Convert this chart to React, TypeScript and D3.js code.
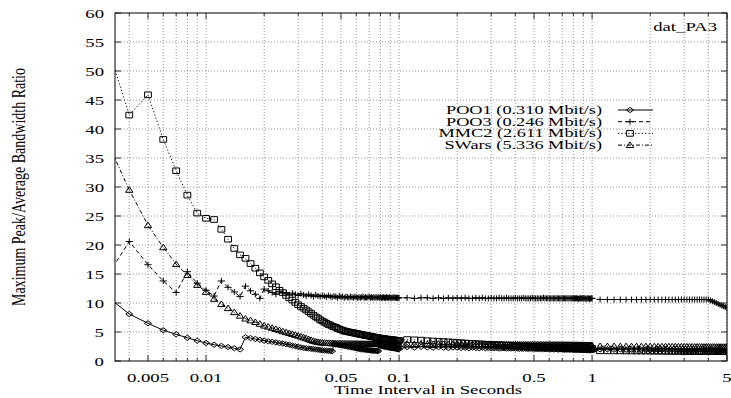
import { useEffect, useRef } from 'react'
import * as d3 from 'd3'

// sampling grid of the time interval, in milliseconds
const X_FINE_MS = [
  3, 4, 5, 6, 7, 8, 9, 10, 11, 12,
  13, 14, 15, 16, 17, 18, 19, 20, 21, 22,
  23, 24, 25, 26, 27, 28, 29, 30, 31, 32,
  33, 34, 35, 36, 37, 38, 39, 40, 41, 42,
  43, 44, 45, 46, 47, 48, 49, 50, 51, 52,
  53, 54, 55, 56, 57, 58, 59, 60, 61, 62,
  63, 64, 65, 66, 67, 68, 69, 70, 71, 72,
  73, 74, 75, 76, 77, 78, 79, 80, 81, 82,
  83, 84, 85, 86, 87, 88, 89, 90, 91, 92,
  93, 94, 95, 96, 97, 98, 99, 100
]
const X_MID_MS = [
  110, 120, 130, 140, 150, 160, 170, 180, 190, 200,
  210, 220, 230, 240, 250, 260, 270, 280, 290, 300,
  310, 320, 330, 340, 350, 360, 370, 380, 390, 400,
  410, 420, 430, 440, 450, 460, 470, 480, 490, 500,
  510, 520, 530, 540, 550, 560, 570, 580, 590, 600,
  610, 620, 630, 640, 650, 660, 670, 680, 690, 700,
  710, 720, 730, 740, 750, 760, 770, 780, 790, 800,
  810, 820, 830, 840, 850, 860, 870, 880, 890, 900,
  910, 920, 930, 940, 950, 960, 970, 980, 990, 1000
]
const X_COARSE_MS = [
  1100, 1200, 1300, 1400, 1500, 1600, 1700, 1800, 1900, 2000,
  2100, 2200, 2300, 2400, 2500, 2600, 2700, 2800, 2900, 3000,
  3100, 3200, 3300, 3400, 3500, 3600, 3700, 3800, 3900, 4000,
  4100, 4200, 4300, 4400, 4500, 4600, 4700, 4800, 4900, 5000
]

const POO1_FINE = [
  11.4, 8.1, 6.5, 5.3, 4.6, 4.0, 3.5, 3.1, 2.8, 2.6,
  2.4, 2.2, 2.0, 4.1, 3.95, 3.8, 3.65, 3.5, 3.4, 3.3,
  3.2, 3.1, 3.0, 2.9, 2.8, 2.65, 2.55, 2.45, 2.35, 2.25,
  2.2, 2.15, 2.1, 2.05, 2.0, 1.95, 1.9, 1.85, 1.8, 1.8,
  1.75, 1.75, 1.7, 2.9, 2.85, 2.8, 2.75, 2.7, 2.65, 2.6,
  2.55, 2.5, 2.45, 2.4, 2.35, 2.3, 2.25, 2.2, 2.15, 2.1,
  2.05, 2.0, 2.0, 1.95, 1.95, 1.9, 1.9, 1.85, 1.85, 1.8,
  1.8, 1.8, 1.75, 1.75, 1.75, 1.7, 2.7, 2.65, 2.6, 2.55,
  2.5, 2.5, 2.45, 2.4, 2.4, 2.35, 2.3, 2.3, 2.25, 2.25,
  2.2, 2.2, 2.15, 2.15, 2.1, 2.1, 2.05, 2.05
]
const POO1_MID = [
  2.4, 2.3, 2.45, 2.35, 2.3, 2.4, 2.3, 2.25, 2.35, 2.3,
  2.25, 2.3, 2.2, 2.3, 2.25, 2.2, 2.3, 2.2, 2.25, 2.2,
  2.2, 2.25, 2.15, 2.2, 2.2, 2.15, 2.2, 2.15, 2.2, 2.15,
  2.15, 2.1, 2.15, 2.1, 2.15, 2.1, 2.1, 2.15, 2.1, 2.1,
  2.1, 2.05, 2.1, 2.05, 2.1, 2.05, 2.05, 2.1, 2.05, 2.05,
  2.05, 2.0, 2.05, 2.0, 2.05, 2.0, 2.0, 2.05, 2.0, 2.0,
  2.0, 1.95, 2.0, 1.95, 2.0, 1.95, 1.95, 2.0, 1.95, 1.95,
  1.95, 1.9, 1.95, 1.9, 1.95, 1.9, 1.9, 1.95, 1.9, 1.9,
  1.9, 1.9, 1.85, 1.9, 1.85, 1.9, 1.85, 1.85, 1.9, 1.85
]
const POO1_COARSE = [
  2.0, 2.0, 1.95, 2.0, 1.95, 1.95, 1.95, 1.9, 1.95, 1.9,
  1.9, 1.9, 1.9, 1.9, 1.85, 1.9, 1.85, 1.85, 1.85, 1.85,
  1.85, 1.85, 1.8, 1.85, 1.8, 1.8, 1.8, 1.8, 1.8, 1.8,
  1.8, 1.75, 1.8, 1.75, 1.75, 1.75, 1.75, 1.75, 1.75, 1.7
]

const POO3_FINE = [
  14.1, 20.6, 16.6, 13.8, 11.8, 15.4, 13.4, 12.2, 11.2, 13.8,
  12.7, 11.9, 11.1, 12.9, 12.1, 11.5, 10.8, 12.4, 12.1, 11.8,
  11.5, 12.0, 11.8, 11.6, 11.4, 11.7, 11.5, 11.3, 11.6, 11.4,
  11.2, 11.5, 11.3, 11.1, 11.4, 11.2, 11.1, 11.3, 11.2, 11.0,
  11.3, 11.1, 11.0, 11.2, 11.1, 10.9, 11.2, 11.0, 11.1, 10.9,
  11.1, 11.0, 10.9, 11.1, 11.0, 10.9, 11.1, 11.0, 10.9, 11.0,
  10.9, 11.0, 11.1, 10.9, 11.0, 10.9, 11.0, 11.1, 10.9, 11.0,
  10.9, 11.0, 10.9, 11.0, 10.9, 11.0, 10.9, 11.0, 10.9, 10.9,
  11.0, 10.9, 10.9, 11.0, 10.9, 10.9, 11.0, 10.9, 10.9, 10.9,
  10.9, 11.0, 10.9, 10.9, 10.9, 10.9, 10.9, 10.9
]
const POO3_MID = [
  10.9, 10.8, 10.9, 10.9, 10.8, 10.9, 10.8, 10.9, 10.8, 10.9,
  10.8, 10.9, 10.8, 10.8, 10.9, 10.8, 10.9, 10.8, 10.8, 10.9,
  10.8, 10.8, 10.9, 10.8, 10.8, 10.9, 10.8, 10.8, 10.8, 10.9,
  10.8, 10.8, 10.8, 10.9, 10.8, 10.8, 10.8, 10.8, 10.9, 10.8,
  10.8, 10.8, 10.8, 10.8, 10.8, 10.9, 10.8, 10.8, 10.8, 10.8,
  10.8, 10.8, 10.8, 10.8, 10.8, 10.8, 10.8, 10.8, 10.8, 10.8,
  10.8, 10.8, 10.8, 10.8, 10.8, 10.8, 10.8, 10.8, 10.8, 10.8,
  10.8, 10.8, 10.8, 10.8, 10.7, 10.8, 10.8, 10.8, 10.8, 10.8,
  10.8, 10.8, 10.7, 10.8, 10.8, 10.8, 10.7, 10.8, 10.8, 10.8
]
const POO3_COARSE = [
  10.6, 10.6, 10.6, 10.6, 10.6, 10.6, 10.6, 10.6, 10.6, 10.6,
  10.6, 10.6, 10.6, 10.6, 10.6, 10.6, 10.6, 10.6, 10.6, 10.6,
  10.6, 10.6, 10.6, 10.6, 10.6, 10.6, 10.6, 10.6, 10.6, 10.6,
  10.45, 10.3, 10.15, 10.0, 9.85, 9.7, 9.55, 9.45, 9.3, 9.15
]

const MMC2_FINE = [
  55.7, 42.4, 45.9, 38.2, 32.8, 28.6, 25.5, 24.6, 24.4, 22.7,
  21.0, 19.4, 18.3, 17.7, 16.8, 16.0, 15.2, 14.5, 13.9, 13.3,
  12.8, 12.2, 11.8, 11.3, 10.9, 10.5, 10.1, 9.7, 9.4, 9.1,
  8.8, 8.5, 8.2, 7.9, 7.6, 7.4, 7.1, 6.9, 6.7, 6.5,
  6.3, 6.2, 6.0, 5.9, 5.8, 5.6, 5.5, 5.4, 5.3, 5.2,
  5.1, 5.05, 5.0, 4.95, 4.9, 4.85, 4.8, 4.75, 4.7, 4.65,
  4.6, 4.55, 4.5, 4.45, 4.4, 4.38, 4.35, 4.3, 4.25, 4.2,
  4.17, 4.14, 4.1, 4.07, 4.04, 4.0, 3.97, 3.94, 3.9, 3.87,
  3.84, 3.82, 3.8, 3.78, 3.76, 3.74, 3.72, 3.7, 3.68, 3.66,
  3.64, 3.62, 3.6, 3.58, 3.56, 3.55, 3.54, 3.52
]
const MMC2_MID = [
  3.7, 3.65, 3.6, 3.5, 3.45, 3.4, 3.35, 3.3, 3.25, 3.2,
  3.15, 3.1, 3.05, 3.0, 2.98, 2.95, 2.92, 2.9, 2.87, 2.85,
  2.82, 2.8, 2.78, 2.76, 2.74, 2.72, 2.7, 2.68, 2.66, 2.64,
  2.62, 2.6, 2.58, 2.56, 2.55, 2.54, 2.52, 2.5, 2.49, 2.48,
  2.46, 2.45, 2.44, 2.42, 2.41, 2.4, 2.39, 2.38, 2.36, 2.35,
  2.34, 2.33, 2.32, 2.31, 2.3, 2.29, 2.28, 2.27, 2.26, 2.25,
  2.24, 2.23, 2.22, 2.21, 2.2, 2.2, 2.19, 2.18, 2.17, 2.16,
  2.16, 2.15, 2.14, 2.14, 2.13, 2.12, 2.12, 2.11, 2.1, 2.1,
  2.09, 2.09, 2.08, 2.08, 2.07, 2.07, 2.06, 2.06, 2.05, 2.05
]
const MMC2_COARSE = [
  1.75, 1.75, 1.74, 1.74, 1.73, 1.73, 1.72, 1.72, 1.71, 1.71,
  1.7, 1.7, 1.69, 1.69, 1.68, 1.68, 1.67, 1.67, 1.66, 1.66,
  1.65, 1.65, 1.65, 1.64, 1.64, 1.64, 1.63, 1.63, 1.63, 1.62,
  1.62, 1.62, 1.61, 1.61, 1.61, 1.6, 1.6, 1.6, 1.6, 1.6
]

const SWARS_FINE = [
  38.6, 29.5, 23.4, 19.6, 16.7, 14.8, 13.1, 11.9, 10.7, 9.8,
  9.1, 8.4, 7.8, 7.3, 7.0, 6.7, 6.4, 6.1, 5.9, 5.7,
  5.5, 5.3, 5.1, 4.95, 4.8, 4.65, 4.5, 4.35, 4.2, 4.05,
  3.9, 3.75, 3.6, 3.45, 3.35, 3.25, 3.2, 3.15, 3.12, 3.1,
  3.08, 3.06, 3.05, 3.04, 3.03, 3.02, 3.01, 3.0, 3.0, 2.99,
  2.99, 2.98, 2.98, 2.97, 2.97, 2.96, 2.96, 2.95, 2.95, 2.95,
  2.94, 2.94, 2.94, 2.93, 2.93, 2.93, 2.92, 2.92, 2.92, 2.92,
  2.91, 2.91, 2.91, 2.91, 2.9, 2.9, 2.9, 2.9, 2.9, 2.89,
  2.89, 2.89, 2.89, 2.89, 2.88, 2.88, 2.88, 2.88, 2.88, 2.88,
  2.87, 2.87, 2.87, 2.87, 2.87, 2.86, 2.86, 2.86
]
const SWARS_MID = [
  2.95, 2.9, 2.95, 2.9, 2.9, 2.95, 2.9, 2.9, 2.9, 2.88,
  2.9, 2.88, 2.88, 2.9, 2.87, 2.87, 2.88, 2.86, 2.86, 2.87,
  2.86, 2.85, 2.86, 2.85, 2.85, 2.84, 2.85, 2.84, 2.84, 2.83,
  2.84, 2.83, 2.83, 2.82, 2.83, 2.82, 2.82, 2.81, 2.82, 2.81,
  2.81, 2.8, 2.81, 2.8, 2.8, 2.8, 2.79, 2.8, 2.79, 2.79,
  2.79, 2.78, 2.79, 2.78, 2.78, 2.78, 2.77, 2.78, 2.77, 2.77,
  2.77, 2.77, 2.76, 2.77, 2.76, 2.76, 2.76, 2.75, 2.76, 2.75,
  2.75, 2.75, 2.75, 2.74, 2.75, 2.74, 2.74, 2.74, 2.73, 2.74,
  2.73, 2.73, 2.73, 2.72, 2.73, 2.72, 2.72, 2.72, 2.71, 2.71
]
const SWARS_COARSE = [
  2.55, 2.55, 2.54, 2.54, 2.53, 2.53, 2.52, 2.52, 2.52, 2.51,
  2.51, 2.5, 2.5, 2.5, 2.49, 2.49, 2.49, 2.48, 2.48, 2.48,
  2.47, 2.47, 2.47, 2.46, 2.46, 2.46, 2.45, 2.45, 2.45, 2.45,
  2.44, 2.44, 2.44, 2.43, 2.43, 2.43, 2.43, 2.42, 2.42, 2.42
]

const SERIES_NAMES = ['POO1 (0.310 Mbit/s)', 'POO3 (0.246 Mbit/s)', 'MMC2 (2.611 Mbit/s)', 'SWars (5.336 Mbit/s)']
const Y_TICKS = [0, 5, 10, 15, 20, 25, 30, 35, 40, 45, 50, 55, 60]
const X_TICK_LABELS = [0.005, 0.01, 0.05, 0.1, 0.5, 1, 5]
const X_GRID = [
  0.004, 0.005, 0.006, 0.007, 0.008, 0.009,
  0.01, 0.02, 0.03, 0.04, 0.05, 0.06, 0.07, 0.08, 0.09,
  0.1, 0.2, 0.3, 0.4, 0.5, 0.6, 0.7, 0.8, 0.9,
  1, 2, 3, 4, 5
]

const W = 731
const H = 398
const LEFT = 115
const RIGHT = 727
const TOP = 13
const BOTTOM = 361
const FONT = '"Liberation Serif", "Times New Roman", Times, serif'

const MARKERS: Record<string, string> = {
  diamond: 'M-3.5,0L0,-2.6L3.5,0L0,2.6Z',
  plus: 'M-3.6,0H3.6M0,-3V3',
  square: 'M-3.4,-2.8H3.4V2.8H-3.4Z',
  triangle: 'M0,-3.2L3.7,2.4H-3.7Z'
}

export default function App() {
  const svgRef = useRef<SVGSVGElement>(null)

  useEffect(() => {
    if (!svgRef.current) return
    const svg = d3.select(svgRef.current)
    svg.selectAll('*').remove()

    const xs = [...X_FINE_MS, ...X_MID_MS, ...X_COARSE_MS].map(ms => ms / 1000)
    const series = [
      { name: SERIES_NAMES[0], values: [...POO1_FINE, ...POO1_MID, ...POO1_COARSE], dash: null, marker: 'diamond' },
      { name: SERIES_NAMES[1], values: [...POO3_FINE, ...POO3_MID, ...POO3_COARSE], dash: '4,3', marker: 'plus' },
      { name: SERIES_NAMES[2], values: [...MMC2_FINE, ...MMC2_MID, ...MMC2_COARSE], dash: '1.2,2.2', marker: 'square' },
      { name: SERIES_NAMES[3], values: [...SWARS_FINE, ...SWARS_MID, ...SWARS_COARSE], dash: '4,2,1,2', marker: 'triangle' }
    ]

    const x = d3.scaleLog().domain([0.003374, 5]).range([LEFT, RIGHT])
    const y = d3.scaleLinear().domain([0, 60]).range([BOTTOM, TOP])

    const label = (
      parent: d3.Selection<any, unknown, null, undefined>,
      tx: number, ty: number, text: string, anchor: string, size = 12.5
    ) => parent.append('text')
      .attr('transform', `translate(${tx},${ty}) scale(1.5,1)`)
      .attr('text-anchor', anchor)
      .style('font-family', FONT)
      .style('font-size', `${size}px`)
      .attr('fill', '#000')
      .text(text)

    svg.append('rect').attr('width', W).attr('height', H).attr('fill', '#fff')

    svg.append('defs').append('clipPath').attr('id', 'plot-clip')
      .append('rect').attr('x', LEFT).attr('y', TOP).attr('width', RIGHT - LEFT).attr('height', BOTTOM - TOP)

    // grid
    const grid = svg.append('g').attr('stroke', '#8a8a8a').attr('stroke-width', 0.9).attr('stroke-dasharray', '1,2')
    grid.selectAll('.vg').data(X_GRID).enter().append('line')
      .attr('x1', d => x(d)).attr('x2', d => x(d)).attr('y1', TOP).attr('y2', BOTTOM)
    grid.selectAll('.hg').data(Y_TICKS.slice(1, -1)).enter().append('line')
      .attr('x1', LEFT).attr('x2', RIGHT).attr('y1', d => y(d)).attr('y2', d => y(d))

    // ticks
    const ticks = svg.append('g').attr('stroke', '#000').attr('stroke-width', 0.8)
    X_GRID.forEach(v => {
      const len = X_TICK_LABELS.includes(v) ? 6 : 3
      ticks.append('line').attr('x1', x(v)).attr('x2', x(v)).attr('y1', BOTTOM).attr('y2', BOTTOM - len)
      ticks.append('line').attr('x1', x(v)).attr('x2', x(v)).attr('y1', TOP).attr('y2', TOP + len)
    })
    Y_TICKS.forEach(v => {
      ticks.append('line').attr('x1', LEFT).attr('x2', LEFT + 6).attr('y1', y(v)).attr('y2', y(v))
      ticks.append('line').attr('x1', RIGHT).attr('x2', RIGHT - 6).attr('y1', y(v)).attr('y2', y(v))
    })

    // series
    const plot = svg.append('g').attr('clip-path', 'url(#plot-clip)')
    series.forEach(s => {
      const pts = xs.map((xv, i) => [xv, s.values[i]] as [number, number]).filter(p => p[1] != null)
      const line = d3.line<[number, number]>().x(d => x(d[0])).y(d => y(d[1]))
      plot.append('path')
        .attr('d', line(pts))
        .attr('fill', 'none')
        .attr('stroke', '#000')
        .attr('stroke-width', 1)
        .attr('stroke-dasharray', s.dash)
      plot.selectAll(null).data(pts).enter().append('path')
        .attr('d', MARKERS[s.marker])
        .attr('transform', d => `translate(${x(d[0])},${y(d[1])})`)
        .attr('fill', 'none')
        .attr('stroke', '#000')
        .attr('stroke-width', 1)
    })

    // frame
    svg.append('rect').attr('x', LEFT).attr('y', TOP).attr('width', RIGHT - LEFT).attr('height', BOTTOM - TOP)
      .attr('fill', 'none').attr('stroke', '#000').attr('stroke-width', 1)

    // tick labels
    Y_TICKS.forEach(v => label(svg, 104, y(v) + 4.5, String(v), 'end'))
    X_TICK_LABELS.forEach(v => label(svg, x(v), 382, String(v), 'middle'))

    // axis titles
    label(svg, 428, 394, 'Time Interval in Seconds', 'middle')
    svg.append('text')
      .attr('transform', `translate(25,187) scale(1.34,1) rotate(-90)`)
      .attr('text-anchor', 'middle')
      .style('font-family', FONT)
      .style('font-size', '14px')
      .text('Maximum Peak/Average Bandwidth Ratio')

    label(svg, 717, 31, 'dat_PA3', 'end')

    // legend
    series.forEach((s, i) => {
      const cy = 110 + i * 11.7
      label(svg, 602, cy + 4, s.name, 'end', 12.2)
      svg.append('line').attr('x1', 618).attr('x2', 653).attr('y1', cy).attr('y2', cy)
        .attr('stroke', '#000').attr('stroke-width', 1).attr('stroke-dasharray', s.dash)
      svg.append('path').attr('d', MARKERS[s.marker]).attr('transform', `translate(630,${cy})`)
        .attr('fill', 'none').attr('stroke', '#000').attr('stroke-width', 1)
    })
  }, [])

  return (
    <svg
      ref={svgRef}
      width={W}
      height={H}
      style={{ position: 'absolute', left: 0, top: 0, display: 'block' }}
    />
  )
}
